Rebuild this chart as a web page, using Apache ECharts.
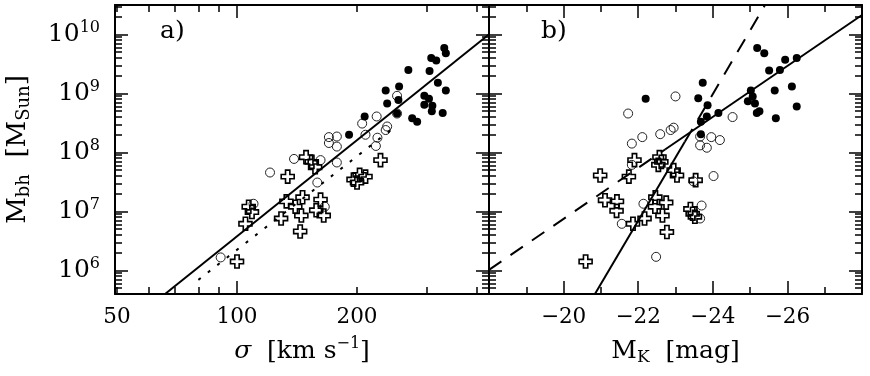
<!DOCTYPE html>
<html>
<head>
<meta charset="utf-8">
<script src="https://cdn.jsdelivr.net/npm/echarts@6.0.0/dist/echarts.min.js"></script>
<style>
  html, body { margin: 0; padding: 0; background: #fff; }
  #chart { width: 870px; height: 376px; }
</style>
</head>
<body>
<div id="chart"></div>
<script>
(function() {
    var FONT = 'DejaVu Serif';
    var ink = '#000';

    // --- panel a: sigma [km/s] vs log10 M_bh ---
    var aFilledSigma = [331, 334, 307, 316, 269, 304, 319, 334, 236, 255, 254, 238, 295, 303, 295, 309, 308, 328, 252, 275, 283, 209, 191];
    var aFilledLogM  = [9.77, 9.68, 9.60, 9.56, 9.40, 9.38, 9.18, 9.05, 9.05, 9.12, 8.89, 8.83, 8.96, 8.91, 8.81, 8.79, 8.70, 8.67, 8.66, 8.58, 8.52, 8.61, 8.30];
    var aOpenSigma   = [252, 224, 206, 210, 238, 236, 225, 223, 178, 170, 170, 178, 139, 162, 178, 159, 252, 121, 110, 91, 166];
    var aOpenLogM    = [8.96, 8.61, 8.49, 8.30, 8.44, 8.38, 8.25, 8.11, 8.27, 8.26, 8.16, 8.10, 7.89, 7.87, 7.83, 7.49, 8.66, 7.66, 7.13, 6.22, 7.08];
    var aCrossSigma  = [229, 149, 154, 157, 134, 196, 203, 210, 200, 133, 146, 140, 162, 158, 165, 145, 129, 144, 107, 109, 105, 100];
    var aCrossLogM   = [7.87, 7.92, 7.84, 7.75, 7.59, 7.54, 7.62, 7.59, 7.49, 7.17, 7.24, 7.08, 7.20, 7.02, 6.93, 6.93, 6.88, 6.66, 7.08, 6.99, 6.79, 6.15];
    var aFitSigma    = [66, 428];
    var aFitLogM     = [5.6, 10.0];
    var aDotSigma    = [80, 245];
    var aDotLogM     = [5.84, 8.40];

    // --- panel b: M_K [mag] vs log10 M_bh ---
    var bFilledMK   = [-25.19, -25.38, -25.94, -26.25, -25.51, -25.80, -23.73, -25.02, -25.66, -26.12, -23.61, -22.20, -25.07, -24.94, -25.13, -23.86, -26.25, -24.15, -25.18, -25.25, -23.84, -25.69, -23.68, -23.68];
    var bFilledLogM = [9.77, 9.68, 9.57, 9.60, 9.39, 9.40, 9.18, 9.05, 9.05, 9.12, 8.92, 8.91, 8.95, 8.87, 8.83, 8.80, 8.78, 8.67, 8.67, 8.70, 8.61, 8.58, 8.52, 8.31];
    var bOpenMK     = [-23.00, -21.73, -24.53, -22.95, -22.87, -22.59, -22.11, -21.83, -23.66, -23.96, -24.19, -23.66, -23.84, -24.02, -22.14, -21.56, -23.70, -23.66, -22.48, -23.48, -21.83];
    var bOpenLogM   = [8.95, 8.66, 8.60, 8.42, 8.38, 8.31, 8.26, 8.15, 8.27, 8.26, 8.21, 8.12, 8.08, 7.60, 7.13, 6.79, 7.10, 6.88, 6.23, 7.51, 7.79];
    var bCrossMK    = [-20.98, -21.75, -21.90, -22.57, -22.62, -22.54, -22.95, -23.04, -23.54, -21.11, -21.43, -21.42, -22.46, -22.75, -22.45, -22.65, -22.17, -21.86, -22.77, -23.40, -23.46, -23.52, -20.59];
    var bCrossLogM  = [7.61, 7.59, 7.87, 7.92, 7.84, 7.79, 7.70, 7.61, 7.53, 7.19, 7.17, 7.01, 7.24, 7.15, 7.08, 6.93, 6.88, 6.79, 6.65, 7.04, 6.96, 6.91, 6.15];
    var bShallowMK   = [-18, -22.72, -28];
    var bShallowLogM = [6.01, 8.05, 10.33];
    var bSteepMK     = [-20.84, -23.25, -25.40];
    var bSteepLogM   = [5.6, 8.18, 10.5];

    // --- axes ---
    var sigmaLabels = [50, 100, 200];
    var sigmaMajor  = [100];
    var sigmaMinor  = [50, 60, 70, 80, 90, 200, 300, 400];
    var logMLabels  = [6, 7, 8, 9, 10];
    var massMinor   = [4e5, 5e5, 6e5, 7e5, 8e5, 9e5];
    [6, 7, 8, 9].forEach(function(n) {
        for (var k = 2; k <= 9; k++) massMinor.push(k * Math.pow(10, n));
    });
    massMinor.push(2e10, 3e10);

    var X_A = [1.694, 2.632];
    var Y_R = [5.6, 10.5];

    function lg(v) { return Math.log10(v); }
    function pts(xs, ys, fx) {
        return xs.map(function(x, i) { return [fx ? fx(x) : x, ys[i]]; });
    }

    var lineCol = { color: ink, width: 2 };
    var tickCol = { color: ink, width: 1.5 };

    function tickAxis(grid, pos, range, values, len, lineShow) {
        return {
            type: 'value', gridIndex: grid, position: pos, min: range[0], max: range[1],
            axisLine: { show: lineShow, onZero: false, lineStyle: lineCol },
            axisTick: { show: true, inside: true, length: len, customValues: values, lineStyle: tickCol },
            axisLabel: { show: false },
            splitLine: { show: false }
        };
    }

    var xAxes = [];
    // grid 0 bottom: labels + minor ticks
    var xa0 = tickAxis(0, 'bottom', X_A, sigmaMinor.map(lg), 7, true);
    xa0.axisLabel = {
        show: true, customValues: sigmaLabels.map(lg), margin: 12,
        fontFamily: FONT, fontSize: 21.5, color: ink,
        formatter: function(v) { return String(Math.round(Math.pow(10, v))); }
    };
    xa0.name = '{i|σ}{t|  [km s}{p|−1}{t|]}';
    xa0.nameLocation = 'middle';
    xa0.nameGap = 42;
    xa0.nameTextStyle = {
        fontFamily: FONT, color: ink,
        rich: {
            i: { fontFamily: FONT, fontSize: 25, fontStyle: 'italic', lineHeight: 30, color: ink },
            t: { fontFamily: FONT, fontSize: 25, lineHeight: 30, color: ink },
            p: { fontFamily: FONT, fontSize: 16, lineHeight: 12, verticalAlign: 'top', color: ink }
        }
    };
    xAxes.push(xa0);
    xAxes.push(tickAxis(0, 'bottom', X_A, sigmaMajor.map(lg), 13, false));
    xAxes.push(tickAxis(0, 'top', X_A, sigmaMinor.map(lg), 7, true));
    xAxes.push(tickAxis(0, 'top', X_A, sigmaMajor.map(lg), 13, false));

    function mkAxis(pos, labels) {
        return {
            type: 'value', gridIndex: 1, position: pos, min: -28, max: -18, inverse: true, interval: 2,
            axisLine: { show: true, onZero: false, lineStyle: lineCol },
            axisTick: { show: true, inside: true, length: 13, lineStyle: tickCol },
            minorTick: { show: true, splitNumber: 2, length: 7, lineStyle: tickCol },
            splitLine: { show: false },
            minorSplitLine: { show: false },
            axisLabel: {
                show: labels, margin: 12, showMinLabel: false, showMaxLabel: false,
                fontFamily: FONT, fontSize: 21.5, color: ink,
                formatter: function(v) { return '−' + Math.abs(v); }
            }
        };
    }
    var xb0 = mkAxis('bottom', true);
    xb0.name = '{t|M}{s|K}{t|  [mag]}';
    xb0.nameLocation = 'middle';
    xb0.nameGap = 42;
    xb0.nameTextStyle = {
        fontFamily: FONT, color: ink,
        rich: {
            t: { fontFamily: FONT, fontSize: 25, lineHeight: 30, color: ink },
            s: { fontFamily: FONT, fontSize: 17, lineHeight: 12, verticalAlign: 'bottom', color: ink }
        }
    };
    xAxes.push(xb0);
    xAxes.push(mkAxis('top', false));

    var yAxes = [];
    var majorLogM = logMLabels;
    var minorLogM = massMinor.map(lg);
    var ya0 = tickAxis(0, 'left', Y_R, majorLogM, 13, true);
    ya0.axisLabel = {
        show: true, customValues: logMLabels, margin: 15,
        formatter: function(v) { return '{b|10}{p|' + Math.round(v) + '}'; },
        rich: {
            b: { fontFamily: FONT, fontSize: 25, lineHeight: 30, color: ink },
            p: { fontFamily: FONT, fontSize: 16, lineHeight: 12, verticalAlign: 'top', color: ink }
        }
    };
    ya0.name = '{t|M}{s|bh}{t|  [M}{s|Sun}{t|]}';
    ya0.nameLocation = 'middle';
    ya0.nameRotate = 90;
    ya0.nameGap = 82;
    ya0.nameTextStyle = {
        fontFamily: FONT, color: ink,
        rich: {
            t: { fontFamily: FONT, fontSize: 26, lineHeight: 30, color: ink },
            s: { fontFamily: FONT, fontSize: 18, lineHeight: 12, verticalAlign: 'bottom', color: ink }
        }
    };
    yAxes.push(ya0);
    yAxes.push(tickAxis(0, 'left', Y_R, minorLogM, 7, false));
    yAxes.push(tickAxis(0, 'right', Y_R, majorLogM, 13, true));
    yAxes.push(tickAxis(0, 'right', Y_R, minorLogM, 7, false));
    yAxes.push(tickAxis(1, 'left', Y_R, majorLogM, 13, true));
    yAxes.push(tickAxis(1, 'left', Y_R, minorLogM, 7, false));
    yAxes.push(tickAxis(1, 'right', Y_R, majorLogM, 13, true));
    yAxes.push(tickAxis(1, 'right', Y_R, minorLogM, 7, false));

    // --- markers ---
    var crossPath = 'path://M4 0H8V4H12V8H8V12H4V8H0V4H4Z';
    function filled(data, xi, yi) {
        return { type: 'scatter', xAxisIndex: xi, yAxisIndex: yi, data: data, symbol: 'circle', symbolSize: 8,
                 itemStyle: { color: ink, opacity: 1 }, z: 3, silent: true };
    }
    function open(data, xi, yi) {
        return { type: 'scatter', xAxisIndex: xi, yAxisIndex: yi, data: data, symbol: 'circle', symbolSize: 9,
                 itemStyle: { color: 'rgba(0,0,0,0)', borderColor: '#222', borderWidth: 1, opacity: 1 }, z: 2, silent: true };
    }
    function cross(data, xi, yi) {
        return { type: 'scatter', xAxisIndex: xi, yAxisIndex: yi, data: data, symbol: crossPath, symbolSize: 13,
                 itemStyle: { color: 'rgba(0,0,0,0)', borderColor: ink, borderWidth: 1.6, opacity: 1 }, z: 4, silent: true };
    }
    function line(data, xi, yi, type) {
        return { type: 'line', xAxisIndex: xi, yAxisIndex: yi, data: data, showSymbol: false, symbol: 'none',
                 lineStyle: { color: ink, width: 2, type: type }, z: 5, silent: true };
    }

    var series = [
        open(pts(aOpenSigma, aOpenLogM, lg), 0, 0),
        filled(pts(aFilledSigma, aFilledLogM, lg), 0, 0),
        cross(pts(aCrossSigma, aCrossLogM, lg), 0, 0),
        line(pts(aFitSigma, aFitLogM, lg), 0, 0, 'solid'),
        line(pts(aDotSigma, aDotLogM, lg), 0, 0, [3, 9]),

        open(pts(bOpenMK, bOpenLogM), 4, 4),
        filled(pts(bFilledMK, bFilledLogM), 4, 4),
        cross(pts(bCrossMK, bCrossLogM), 4, 4),
        line(pts(bShallowMK.slice(0, 2), bShallowLogM.slice(0, 2)), 4, 4, [15, 11]),
        line(pts(bShallowMK.slice(1), bShallowLogM.slice(1)), 4, 4, 'solid'),
        line(pts(bSteepMK.slice(0, 2), bSteepLogM.slice(0, 2)), 4, 4, 'solid'),
        line(pts(bSteepMK.slice(1), bSteepLogM.slice(1)), 4, 4, [15, 11])
    ];

    var chart = echarts.init(document.getElementById('chart'), null, { renderer: 'canvas' });
    chart.setOption({
        animation: false,
        backgroundColor: '#fff',
        title: [
            { text: 'a)', left: 160, top: 19, padding: 0, textStyle: { fontFamily: FONT, fontSize: 25, fontWeight: 'normal', color: ink } },
            { text: 'b)', left: 541, top: 19, padding: 0, textStyle: { fontFamily: FONT, fontSize: 25, fontWeight: 'normal', color: ink } }
        ],
        grid: [
            { left: 115, top: 5, width: 374, height: 289, containLabel: false },
            { left: 489, top: 5, width: 373, height: 289, containLabel: false }
        ],
        xAxis: xAxes,
        yAxis: yAxes,
        series: series
    });
})();
</script>
</body>
</html>
